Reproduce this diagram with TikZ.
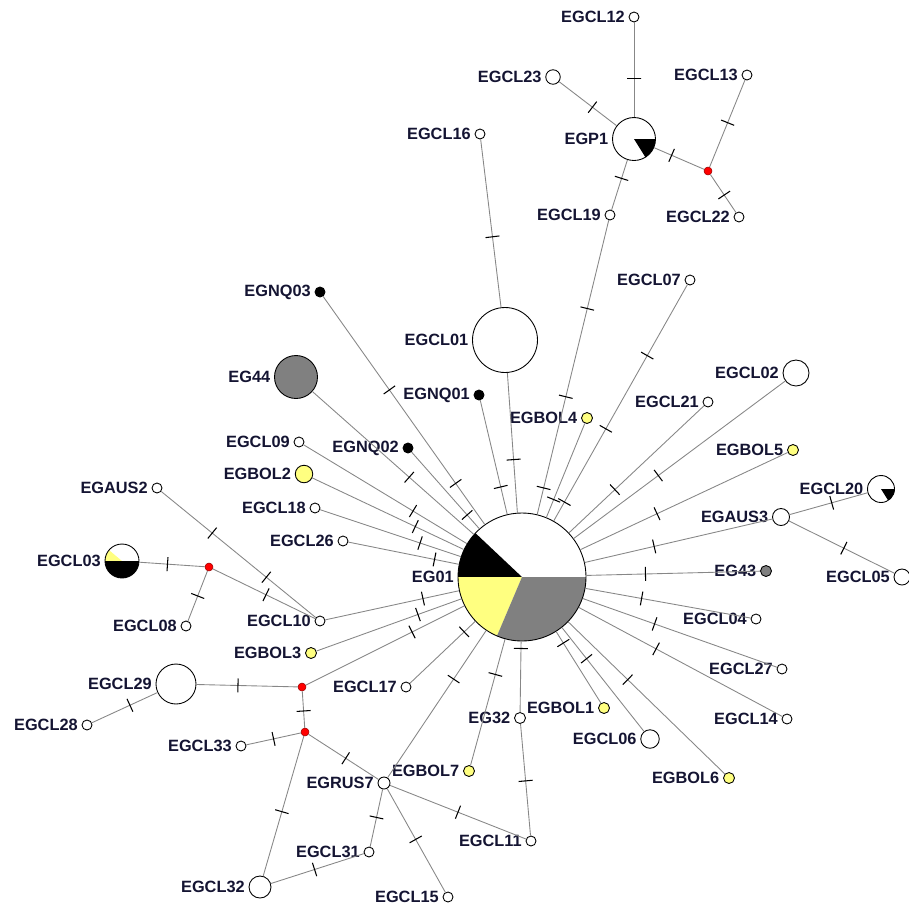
\documentclass[tikz,border=0pt]{standalone}
\usepackage{fontspec}
\setmainfont{Liberation Sans}
\usepackage{tikz}
\definecolor{hapyellow}{RGB}{255,255,128}
\definecolor{hapgray}{RGB}{128,128,128}
\definecolor{linegray}{RGB}{135,135,135}
\definecolor{labelblue}{RGB}{20,20,50}
\tikzstyle{hap} = [circle, draw=black, line width=0.5pt, inner sep=0pt, minimum size=0.2cm, fill=white]
\tikzstyle{yel} = [hap, fill=hapyellow, minimum size=0.22cm]
\tikzstyle{blk} = [hap, fill=black]
\tikzstyle{gry} = [hap, fill=hapgray]
\tikzstyle{med} = [circle, draw=red!60!black, line width=0.3pt, fill=red, inner sep=0pt, minimum size=0.16cm]
\tikzstyle{hlabel} = [font=\fontsize{9.3}{10}\selectfont\bfseries, text=labelblue, inner sep=2pt]
\tikzstyle{link} = [draw=linegray, line width=0.5pt]
\tikzstyle{mut} = [sloped, draw=black, line width=0.6pt, inner sep=0pt, minimum width=0pt, minimum height=0.28cm]
\begin{document}
\begin{tikzpicture}[x=0.02cm, y=-0.02cm, every label/.style={hlabel}]
	\useasboundingbox (0,0) rectangle (909,907);
	% haplotypes
	\node[hap, minimum size=2.56cm, label=left:EG01, path picture={
		\coordinate (pc) at (path picture bounding box.center);
		\fill[black] (pc) -- ++(136.7:2cm) arc[start angle=136.7, end angle=180, radius=2cm] -- cycle;
		\fill[hapyellow] (pc) -- ++(180:2cm) arc[start angle=180, end angle=247, radius=2cm] -- cycle;
		\fill[hapgray] (pc) -- ++(247:2cm) arc[start angle=247, end angle=360, radius=2cm] -- cycle;
	}] (eg01) at (522,577) {};
	\node[hap, minimum size=1.3cm, label=left:EGCL01] (egcl01) at (505,340) {};
	\node[hap, label=left:EGCL16] (egcl16) at (480,134) {};
	\node[hap, label=left:EGCL19] (egcl19) at (610,215) {};
	\node[hap, minimum size=0.86cm, label=left:EGP1, path picture={
		\coordinate (pc) at (path picture bounding box.center);
		\fill[black] (pc) -- ++(-58:1cm) arc[start angle=-58, end angle=0, radius=1cm] -- cycle;
	}] (egp1) at (634,139) {};
	\node[hap, label=left:EGCL12] (egcl12) at (634,17) {};
	\node[hap, minimum size=0.29cm, label=left:EGCL23] (egcl23) at (553,77) {};
	\node[hap, label=left:EGCL13] (egcl13) at (747,75) {};
	\node[med] (med_p) at (708,171) {};
	\node[hap, label=left:EGCL22] (egcl22) at (739,217) {};
	\node[hap, label=left:EGCL07] (egcl07) at (690,280) {};
	\node[blk, label=left:EGNQ03] (egnq03) at (320,292) {};
	\node[gry, minimum size=0.86cm, label=left:EG44] (eg44) at (296,377) {};
	\node[blk, label=left:EGNQ01] (egnq01) at (479,395) {};
	\node[blk, label=left:EGNQ02] (egnq02) at (408,448) {};
	\node[yel, label=left:EGBOL4] (egbol4) at (587,418) {};
	\node[hap, minimum size=0.52cm, label=left:EGCL02] (egcl02) at (796,373) {};
	\node[hap, label=left:EGCL21] (egcl21) at (708,402) {};
	\node[yel, label=left:EGBOL5] (egbol5) at (793,450) {};
	\node[hap, label=left:EGCL09] (egcl09) at (299,442) {};
	\node[yel, minimum size=0.35cm, label=left:EGBOL2] (egbol2) at (304,474) {};
	\node[hap, label=left:EGCL18] (egcl18) at (315,508) {};
	\node[hap, label=left:EGCL26] (egcl26) at (343,541) {};
	\node[hap, label=left:EGAUS2] (egaus2) at (157,488) {};
	\node[hap, minimum size=0.68cm, label=left:EGCL03, path picture={
		\coordinate (pc) at (path picture bounding box.center);
		\fill[hapyellow] (pc) -- ++(140:1cm) arc[start angle=140, end angle=180, radius=1cm] -- cycle;
		\fill[black] (pc) -- ++(180:1cm) arc[start angle=180, end angle=360, radius=1cm] -- cycle;
	}] (egcl03) at (122,561) {};
	\node[med] (med_l) at (209,567) {};
	\node[hap, label=left:EGCL08] (egcl08) at (186,626) {};
	\node[hap, label=left:EGCL10] (egcl10) at (320,621) {};
	\node[yel, label=left:EGBOL3] (egbol3) at (311,653) {};
	\node[hap, minimum size=0.8cm, label=left:EGCL29] (egcl29) at (176,684) {};
	\node[med] (med_a) at (302,687) {};
	\node[med] (med_b) at (305,732) {};
	\node[hap, label=left:EGCL28] (egcl28) at (87,725) {};
	\node[hap, label=left:EGCL33] (egcl33) at (241,746) {};
	\node[hap, minimum size=0.44cm, label=left:EGCL32] (egcl32) at (260,887) {};
	\node[hap, label=left:EGCL17] (egcl17) at (406,687) {};
	\node[hap, minimum size=0.24cm, label=left:EGRUS7] (egrus7) at (384,783) {};
	\node[hap, label=left:EGCL31] (egcl31) at (369,852) {};
	\node[hap, label=left:EGCL15] (egcl15) at (448,897) {};
	\node[yel, label=left:EGBOL7] (egbol7) at (469,771) {};
	\node[hap, minimum size=0.22cm, label=left:EG32] (eg32) at (520,718) {};
	\node[hap, label=left:EGCL11] (egcl11) at (531,841) {};
	\node[yel, label=left:EGBOL1] (egbol1) at (604,708) {};
	\node[hap, minimum size=0.37cm, label=left:EGCL06] (egcl06) at (650,739) {};
	\node[yel, label=left:EGBOL6] (egbol6) at (729,778) {};
	\node[hap, label=left:EGCL14] (egcl14) at (787,719) {};
	\node[hap, label=left:EGCL27] (egcl27) at (782,669) {};
	\node[hap, label=left:EGCL04] (egcl04) at (756,619) {};
	\node[gry, minimum size=0.22cm, label=left:EG43] (eg43) at (766,571) {};
	\node[hap, minimum size=0.32cm, label=left:EGCL05] (egcl05) at (902,577) {};
	\node[hap, minimum size=0.34cm, label=left:EGAUS3] (egaus3) at (781,517) {};
	\node[hap, minimum size=0.54cm, label=left:EGCL20, path picture={
		\coordinate (pc) at (path picture bounding box.center);
		\fill[black] (pc) -- ++(-58:1cm) arc[start angle=-58, end angle=0, radius=1cm] -- cycle;
	}] (egcl20) at (881,489) {};
	
	% links to EG01
	\draw[link] (egcl01) -- node[mut, pos=0.62]{} (eg01);
	\draw[link] (egcl19) -- node[mut, pos=0.30]{} node[mut, pos=0.60]{} node[mut, pos=0.91]{} (eg01);
	\draw[link] (egbol4) -- node[mut, pos=0.81]{} (eg01);
	\draw[link] (egcl07) -- node[mut, pos=0.30]{} node[mut, pos=0.61]{} node[mut, pos=0.92]{} (eg01);
	\draw[link] (egcl21) -- node[mut, pos=0.66]{} (eg01);
	\draw[link] (egcl02) -- node[mut, pos=0.60]{} (eg01);
	\draw[link] (egbol5) -- node[mut, pos=0.63]{} (eg01);
	\draw[link] (egaus3) -- node[mut, pos=0.63]{} (eg01);
	\draw[link] (eg43) -- node[mut, pos=0.66]{} (eg01);
	\draw[link] (egcl04) -- node[mut, pos=0.66]{} (eg01);
	\draw[link] (egcl27) -- node[mut, pos=0.63]{} (eg01);
	\draw[link] (egcl14) -- node[mut, pos=0.62]{} (eg01);
	\draw[link] (egbol6) -- node[mut, pos=0.62]{} (eg01);
	\draw[link] (egcl06) -- node[mut, pos=0.70]{} (eg01);
	\draw[link] (egbol1) -- node[mut, pos=0.84]{} (eg01);
	\draw[link] (eg32) -- node[mut, pos=0.90]{} (eg01);
	\draw[link] (egbol7) -- node[mut, pos=0.72]{} (eg01);
	\draw[link] (egrus7) -- node[mut, pos=0.67]{} (eg01);
	\draw[link] (egcl17) -- node[mut, pos=0.83]{} (eg01);
	\draw[link] (med_a) -- node[mut, pos=0.67]{} (eg01);
	\draw[link] (egbol3) -- node[mut, pos=0.70]{} (eg01);
	\draw[link] (egcl10) -- node[mut, pos=0.73]{} (eg01);
	\draw[link] (egcl26) -- node[mut, pos=0.78]{} (eg01);
	\draw[link] (egcl18) -- node[mut, pos=0.71]{} (eg01);
	\draw[link] (egbol2) -- node[mut, pos=0.68]{} (eg01);
	\draw[link] (egcl09) -- node[mut, pos=0.67]{} (eg01);
	\draw[link] (eg44) -- node[mut, pos=0.60]{} (eg01);
	\draw[link] (egnq03) -- node[mut, pos=0.41]{} node[mut, pos=0.82]{} (eg01);
	\draw[link] (egnq02) -- node[mut, pos=0.82]{} (eg01);
	\draw[link] (egnq01) -- node[mut, pos=0.76]{} (eg01);
	
	% top cluster
	\draw[link] (egcl16) -- node[mut, pos=0.58]{} (egcl01);
	\draw[link] (egcl19) -- node[mut, pos=0.63]{} (egp1);
	\draw[link] (egcl12) -- node[mut, pos=0.59]{} (egp1);
	\draw[link] (egcl23) -- node[mut, pos=0.58]{} (egp1);
	\draw[link] (egp1) -- node[mut, pos=0.35]{} (med_p);
	\draw[link] (med_p) -- node[mut, pos=0.51]{} (egcl13);
	\draw[link] (med_p) -- node[mut, pos=0.54]{} (egcl22);
	
	% right side
	\draw[link] (egaus3) -- node[mut, pos=0.54]{} (egcl20);
	\draw[link] (egaus3) -- node[mut, pos=0.52]{} (egcl05);
	
	% left side
	\draw[link] (egaus2) -- node[mut, pos=0.33]{} node[mut, pos=0.68]{} (egcl10);
	\draw[link] (med_l) -- node[mut, pos=0.52]{} (egcl10);
	\draw[link] (egcl03) -- node[mut, pos=0.43]{} (med_l);
	\draw[link] (med_l) -- node[mut, pos=0.50]{} (egcl08);
	
	% bottom
	\draw[link] (egcl29) -- node[mut, pos=0.41]{} (med_a);
	\draw[link] (egcl28) -- node[mut, pos=0.58]{} (egcl29);
	\draw[link] (med_a) -- node[mut, pos=0.54]{} (med_b);
	\draw[link] (egcl33) -- node[mut, pos=0.50]{} (med_b);
	\draw[link] (med_b) -- node[mut, pos=0.54]{} (egcl32);
	\draw[link] (med_b) -- node[mut, pos=0.53]{} (egrus7);
	\draw[link] (egcl32) -- node[mut, pos=0.47]{} (egcl31);
	\draw[link] (egrus7) -- node[mut, pos=0.49]{} (egcl31);
	\draw[link] (egrus7) -- node[mut, pos=0.49]{} (egcl15);
	\draw[link] (egrus7) -- node[mut, pos=0.50]{} (egcl11);
	\draw[link] (eg32) -- node[mut, pos=0.51]{} (egcl11);
\end{tikzpicture}
\end{document}
